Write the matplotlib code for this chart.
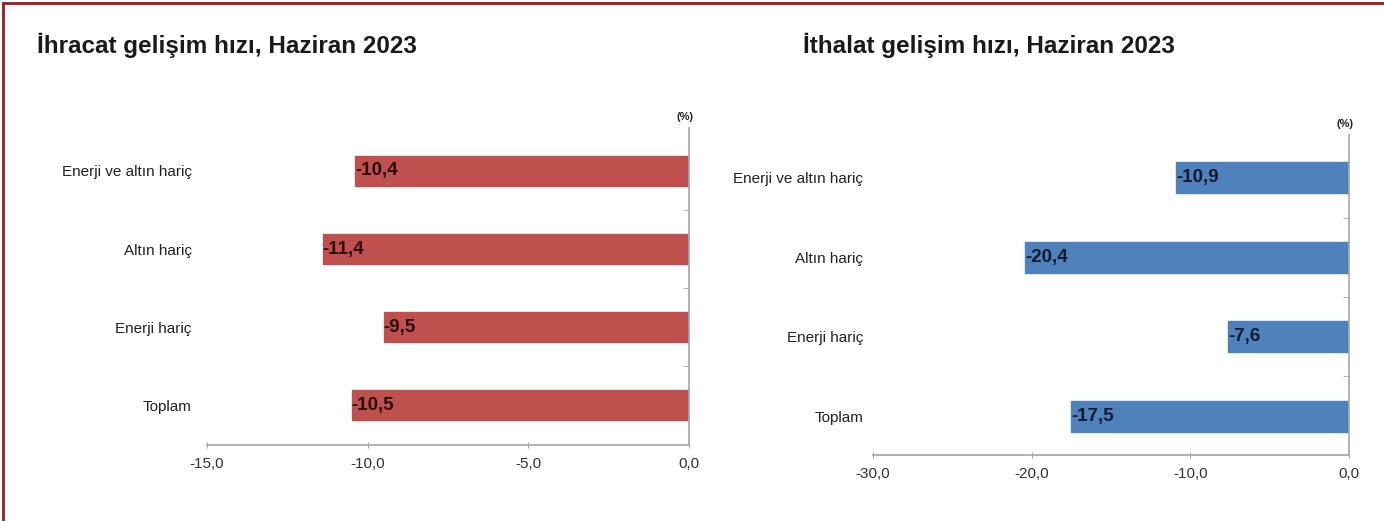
import matplotlib.pyplot as plt
from matplotlib.lines import Line2D

plt.rcParams['font.family'] = ['Liberation Sans', 'DejaVu Sans']

kategoriler = ["Toplam", "Enerji hariç", "Altın hariç", "Enerji ve altın hariç"]
ihracat = [-10.5, -9.5, -11.4, -10.4]
ithalat = [-17.5, -7.6, -20.4, -10.9]

ihracat_ticks = [-15, -10, -5, 0]
ithalat_ticks = [-30, -20, -10, 0]


def virgul(v):
    return f"{v:.1f}".replace(".", ",")


def ciz(ax, degerler, renk, yazi_renk, ticks, ylim, pad):
    y = list(range(len(kategoriler)))
    bars = ax.barh(y, degerler, height=0.39, color=renk, edgecolor=renk)
    for b, v in zip(bars, degerler):
        ax.text(v, b.get_y() + b.get_height() / 2, virgul(v),
                ha="left", va="center", fontsize=13.5, fontweight="bold", color=yazi_renk)
    ax.set_xlim(ticks[0], 0)
    ax.set_ylim(*ylim)
    ax.set_xticks(ticks)
    ax.set_xticklabels([virgul(t) for t in ticks])
    ax.set_yticks(y)
    ax.set_yticklabels(kategoriler)
    ax.set_yticks([0.5, 1.5, 2.5], minor=True)
    for s in ["top", "left"]:
        ax.spines[s].set_visible(False)
    for s in ["bottom", "right"]:
        ax.spines[s].set_color("#a6a6a6")
        ax.spines[s].set_linewidth(1.2)
    ax.tick_params(axis="y", which="major", length=0, pad=pad, labelsize=11, labelcolor="#222222")
    ax.tick_params(axis="y", which="minor", left=False, right=True, direction="in",
                   length=4, color="#a6a6a6")
    ax.tick_params(axis="x", direction="inout", length=5, color="#a6a6a6",
                   labelsize=11, labelcolor="#333333", pad=6)
    ax.text(0.992, 1.018, "(%)", transform=ax.transAxes, ha="center", va="bottom",
            fontsize=8, fontweight="bold", color="#222222")


fig = plt.figure(figsize=(13.84, 5.21), dpi=100)

ax1 = fig.add_axes([207 / 1384, 1 - 445 / 521, 482 / 1384, 317 / 521])
ciz(ax1, ihracat, "#C0504D", "#2a0a0a", ihracat_ticks, (-0.51, 3.55), 11)

ax2 = fig.add_axes([873 / 1384, 1 - 455 / 521, 476 / 1384, 320 / 521])
ciz(ax2, ithalat, "#4F81BD", "#0f1a2e", ithalat_ticks, (-0.49, 3.54), 7)

fig.text(37 / 1384, 1 - 45 / 521, "İhracat gelişim hızı, Haziran 2023",
         fontsize=17.5, fontweight="bold", color="#1a1a1a", va="center", ha="left")
fig.text(803 / 1384, 1 - 45 / 521, "İthalat gelişim hızı, Haziran 2023",
         fontsize=17.5, fontweight="bold", color="#1a1a1a", va="center", ha="left")

# kırmızı çerçeve: yalnız üst ve sol kenar
kenar = "#9b1b1b"
fig.add_artist(Line2D([2.5 / 1384, 1], [1 - 2.5 / 521] * 2, transform=fig.transFigure,
                      color=kenar, linewidth=2))
fig.add_artist(Line2D([2.5 / 1384] * 2, [0, 1 - 2.5 / 521], transform=fig.transFigure,
                      color=kenar, linewidth=2))

fig.savefig("out.png", dpi=100)
